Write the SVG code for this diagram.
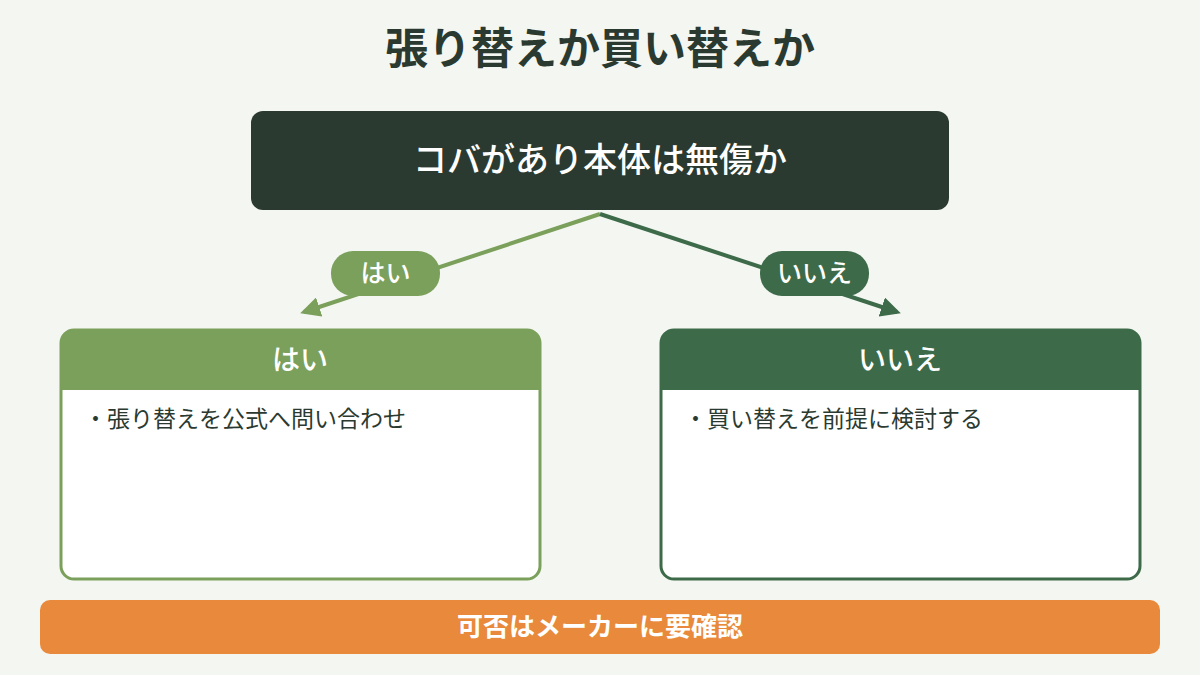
<svg xmlns="http://www.w3.org/2000/svg" width="1200" height="675" viewBox="0 0 1200 675">
<defs>
<style>
text{font-family:"Noto Sans CJK JP","Noto Sans",sans-serif;}
.title{font-size:43px;font-weight:700;fill:#2b3a30;text-anchor:middle;}
.q{font-size:34px;font-weight:500;fill:#ffffff;text-anchor:middle;}
.pill{font-size:25px;font-weight:500;fill:#ffffff;text-anchor:middle;}
.hd{font-size:28px;font-weight:500;fill:#ffffff;text-anchor:middle;}
.body{font-size:23px;fill:#2b3a30;}
.note{font-size:26px;font-weight:700;fill:#ffffff;text-anchor:middle;}
</style>
<marker id="ah-yes" viewBox="0 0 10 10" refX="8" refY="5" markerWidth="5" markerHeight="5" orient="auto" markerUnits="strokeWidth"><path d="M0,0 L10,5 L0,10 z" fill="#7ba05b"/></marker>
<marker id="ah-no" viewBox="0 0 10 10" refX="8" refY="5" markerWidth="5" markerHeight="5" orient="auto" markerUnits="strokeWidth"><path d="M0,0 L10,5 L0,10 z" fill="#3d6b49"/></marker>
</defs>
<rect width="1200" height="675" fill="#f4f6f1"/>
<text class="title" x="600" y="64">張り替えか買い替えか</text>
<g id="connectors">
<line x1="600" y1="214" x2="304" y2="312" stroke="#7ba05b" stroke-width="4" marker-end="url(#ah-yes)"/>
<line x1="600" y1="214" x2="897" y2="312" stroke="#3d6b49" stroke-width="4" marker-end="url(#ah-no)"/>
<g id="label-yes"><rect x="331" y="251" width="109" height="45" rx="22" fill="#7ba05b"/><text class="pill" x="385.5" y="282">はい</text></g>
<g id="label-no"><rect x="760" y="251" width="109" height="45" rx="22" fill="#3d6b49"/><text class="pill" x="814.5" y="282">いいえ</text></g>
</g>
<g id="question">
<rect x="251" y="111" width="698" height="99" rx="12" fill="#2b3a30"/>
<text class="q" x="600" y="172">コバがあり本体は無傷か</text>
</g>
<g id="yes-box">
<rect x="61" y="330" width="479" height="249" rx="13" fill="#ffffff" stroke="#7ba05b" stroke-width="3"/>
<path d="M61,390 V343 A13,13 0 0 1 74,330 H527 A13,13 0 0 1 540,343 V390 Z" fill="#7ba05b"/>
<text class="hd" x="300" y="370">はい</text>
<text class="body" x="84" y="427">・張り替えを公式へ問い合わせ</text>
</g>
<g id="no-box">
<rect x="661" y="330" width="479" height="249" rx="13" fill="#ffffff" stroke="#3d6b49" stroke-width="3"/>
<path d="M661,390 V343 A13,13 0 0 1 674,330 H1127 A13,13 0 0 1 1140,343 V390 Z" fill="#3d6b49"/>
<text class="hd" x="900" y="370">いいえ</text>
<text class="body" x="684" y="427">・買い替えを前提に検討する</text>
</g>
<g id="note">
<rect x="40" y="600" width="1120" height="54" rx="10" fill="#e8893b"/>
<text class="note" x="600" y="636">可否はメーカーに要確認</text>
</g>
</svg>
